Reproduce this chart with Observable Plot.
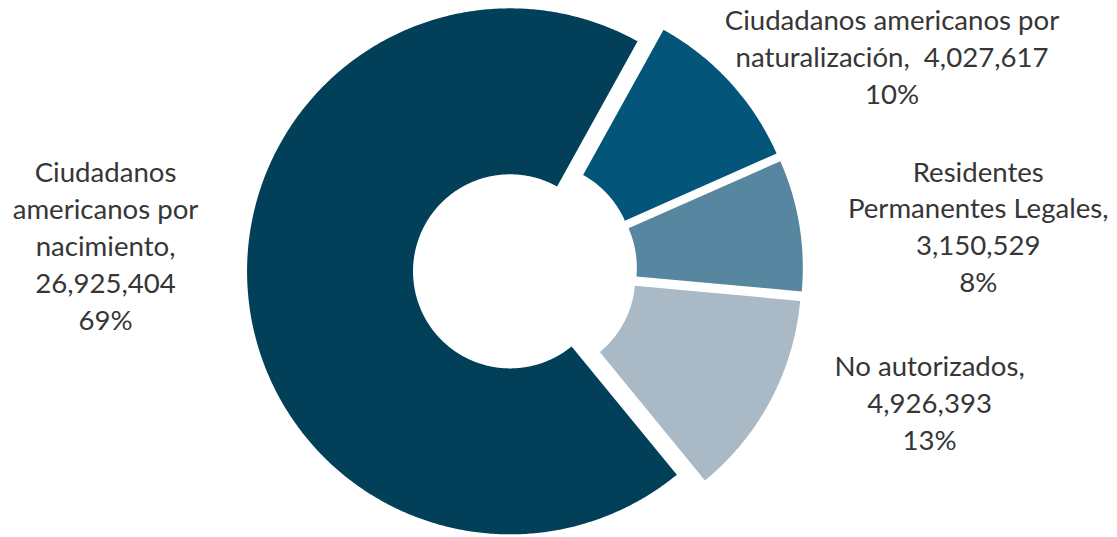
<!DOCTYPE html>
<html>
<head>
<meta charset="utf-8">
<script src="https://cdn.jsdelivr.net/npm/d3@7"></script>
<script src="https://cdn.jsdelivr.net/npm/@observablehq/plot@0.6"></script>
<style>
  html, body { margin: 0; padding: 0; background: #ffffff; }
  #chart svg { display: block; }
</style>
</head>
<body>
<div id="chart"></div>
<script>
// ---- data ----
const categories = [
  "Ciudadanos americanos por naturalización",
  "Residentes Permanentes Legales",
  "No autorizados",
  "Ciudadanos americanos por nacimiento"
];
const values = [4027617, 3150529, 4926393, 26925404];
const labelNames = [
  "Ciudadanos americanos por\nnaturalización,",
  "Residentes\nPermanentes Legales,",
  "No autorizados,",
  "Ciudadanos\namericanos por\nnacimiento,"
];
const labelSeparators = ["\u00a0 ", "\n", "\n", "\n"];
const colors = ["#03557a", "#5686a0", "#aab9c6", "#023f58"];

// ---- layout ----
const W = 1117, H = 537;
const centerPx = [525, 270];
const radiusPx = 263;
const innerRatio = 0.369;
const explode = 0.057;
const startDeg = 29;
// label placement (angle shift from slice mid-angle in degrees, radius in pie radii)
const labelShift = [12, 3.6, -10, 8.8];
const labelRadius = [1.616, 1.73, 1.615, 1.6];

const total = d3.sum(values);
const rad = Math.PI / 180;
const arcs = d3.pie().sort(null)
  .startAngle(startDeg * rad)
  .endAngle(startDeg * rad + 2 * Math.PI)(values);

const points = [];
arcs.forEach((a, i) => {
  const mid = (a.startAngle + a.endAngle) / 2;
  const ox = Math.sin(mid) * explode, oy = Math.cos(mid) * explode;
  const n = Math.max(8, Math.ceil((a.endAngle - a.startAngle) / (0.5 * rad)));
  for (let k = 0; k <= n; k++) {
    const t = a.startAngle + (a.endAngle - a.startAngle) * k / n;
    points.push({
      name: categories[i],
      x1: ox + Math.sin(t), y1: oy + Math.cos(t),
      x2: ox + Math.sin(t) * innerRatio, y2: oy + Math.cos(t) * innerRatio
    });
  }
});

const fmt = d3.format(",");
const labels = arcs.map((a, i) => {
  const mid = (a.startAngle + a.endAngle) / 2 + labelShift[i] * rad;
  return {
    x: Math.sin(mid) * labelRadius[i],
    y: Math.cos(mid) * labelRadius[i],
    text: labelNames[i] + labelSeparators[i] + fmt(values[i]) + "\n" + Math.round(values[i] / total * 100) + "%"
  };
});

const chart = Plot.plot({
  width: W,
  height: H,
  margin: 0,
  style: { background: "#ffffff", fontFamily: "Lato, 'Open Sans', sans-serif" },
  x: { domain: [-centerPx[0] / radiusPx, (W - centerPx[0]) / radiusPx], range: [0, W], axis: null },
  y: { domain: [-(H - centerPx[1]) / radiusPx, centerPx[1] / radiusPx], range: [H, 0], axis: null },
  color: { domain: categories, range: colors },
  marks: [
    Plot.area(points, { x1: "x1", y1: "y1", x2: "x2", y2: "y2", z: "name", fill: "name", curve: "linear" }),
    Plot.text(labels, {
      x: "x", y: "y", text: "text",
      fontSize: 27.6, lineHeight: 1.34, fill: "#363636",
      textAnchor: "middle", lineAnchor: "middle"
    })
  ]
});
document.getElementById("chart").appendChild(chart);
</script>
</body>
</html>
